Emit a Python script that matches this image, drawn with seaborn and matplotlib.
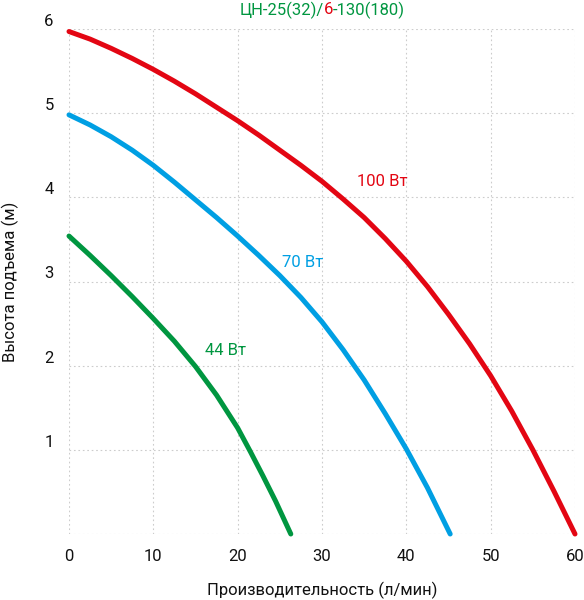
import numpy as np
import pandas as pd
import matplotlib
matplotlib.use("Agg")
import matplotlib.pyplot as plt
import matplotlib.transforms as mtransforms
import seaborn as sns

# Q (л/мин) / H (м)
q_100 = [0, 2.5, 5, 7.5, 10, 12.5, 15, 17.5, 20, 22.5, 25, 27.5, 30, 32.5,
         35, 37.5, 40, 42.5, 45, 47.5, 50, 52.5, 55, 57.5, 60]
h_100 = [5.97, 5.88, 5.77, 5.65, 5.52, 5.38, 5.23, 5.07, 4.91, 4.74, 4.56, 4.38, 4.19, 3.98,
         3.76, 3.51, 3.24, 2.94, 2.61, 2.26, 1.88, 1.46, 1.00, 0.51, 0.0]

q_70 = [0, 2.5, 5, 7.5, 10, 12.5, 15, 17.5, 20, 22.5, 25, 27.5, 30, 32.5,
        35, 37.5, 40, 42.5, 45.2]
h_70 = [4.98, 4.86, 4.72, 4.56, 4.38, 4.18, 3.97, 3.76, 3.54, 3.31, 3.07, 2.81, 2.52, 2.19,
        1.83, 1.43, 1.01, 0.55, 0.0]

q_44 = [0, 2.5, 5, 7.5, 10, 12.5, 15, 17.5, 20, 21.5, 23, 24.5, 26.3]
h_44 = [3.54, 3.31, 3.07, 2.82, 2.56, 2.29, 1.99, 1.65, 1.26, 0.98, 0.69, 0.39, 0.0]

powers = ["100 Вт", "70 Вт", "44 Вт"]
colors = ["#e30613", "#009fe3", "#009640"]

x_ticks = [0, 10, 20, 30, 40, 50, 60]
y_ticks = [1, 2, 3, 4, 5, 6]

df = pd.concat([
    pd.DataFrame({"Q": q_100, "H": h_100, "power": powers[0]}),
    pd.DataFrame({"Q": q_70, "H": h_70, "power": powers[1]}),
    pd.DataFrame({"Q": q_44, "H": h_44, "power": powers[2]}),
])

sns.set_style("white")
plt.rcParams["font.family"] = ["Roboto", "DejaVu Sans"]

fig = plt.figure(figsize=(5.84, 6.0), dpi=100)
ax = fig.add_axes([69 / 584, 66 / 600, 506 / 584, 505 / 600])

#кривые
sns.lineplot(data=df, x="Q", y="H", hue="power", palette=dict(zip(powers, colors)),
             linewidth=3.6, legend=False, estimator=None, ax=ax)
for ln in ax.lines:
    ln.set_solid_capstyle("round")
    ln.set_solid_joinstyle("round")
    ln.set_clip_on(False)

ax.set_xlim(0, 60)
ax.set_ylim(0, 6)
ax.set_xticks(x_ticks)
ax.set_yticks([0] + y_ticks)
ax.set_yticklabels([""] + [str(v) for v in y_ticks])
ax.tick_params(length=0, labelsize=12, colors="#111111")
ax.tick_params(axis="x", pad=11)
ax.tick_params(axis="y", pad=11)
for lab in ax.get_yticklabels():
    lab.set_transform(lab.get_transform() +
                      mtransforms.ScaledTranslation(0, 9 / 100, fig.dpi_scale_trans))

for s in ax.spines.values():
    s.set_visible(False)
ax.grid(True, color="#cccccc", linestyle=(0, (1.5, 2.5)), linewidth=0.8)
ax.set_axisbelow(True)
ax.set_xlabel("")
ax.set_ylabel("")

#подписи кривых
ax.text(34.1, 4.19, powers[0], color=colors[0], fontsize=12, va="center", ha="left")
ax.text(25.3, 3.22, powers[1], color=colors[1], fontsize=12, va="center", ha="left")
ax.text(16.1, 2.18, powers[2], color=colors[2], fontsize=12, va="center", ha="left")

fig.text(322 / 584, 1 - 590 / 600, "Производительность (л/мин)", fontsize=12,
         ha="center", va="center", color="#111111")
fig.text(10 / 584, 1 - 282 / 600, "Высота подъема (м)", fontsize=12, rotation=90,
         ha="center", va="center", color="#111111")

#заголовок из трех частей
title_parts = [("ЦН-25(32)/", colors[2]), ("6", colors[0]), ("-130(180)", colors[2])]
renderer = fig.canvas.get_renderer()
objs = [fig.text(0, 1 - 10 / 600, t, color=c, fontsize=12, ha="left", va="center")
        for t, c in title_parts]
widths = [o.get_window_extent(renderer).width for o in objs]
x0 = 322 - sum(widths) / 2
for o, w in zip(objs, widths):
    o.set_x(x0 / 584)
    x0 += w

fig.savefig("out.png", dpi=100)
